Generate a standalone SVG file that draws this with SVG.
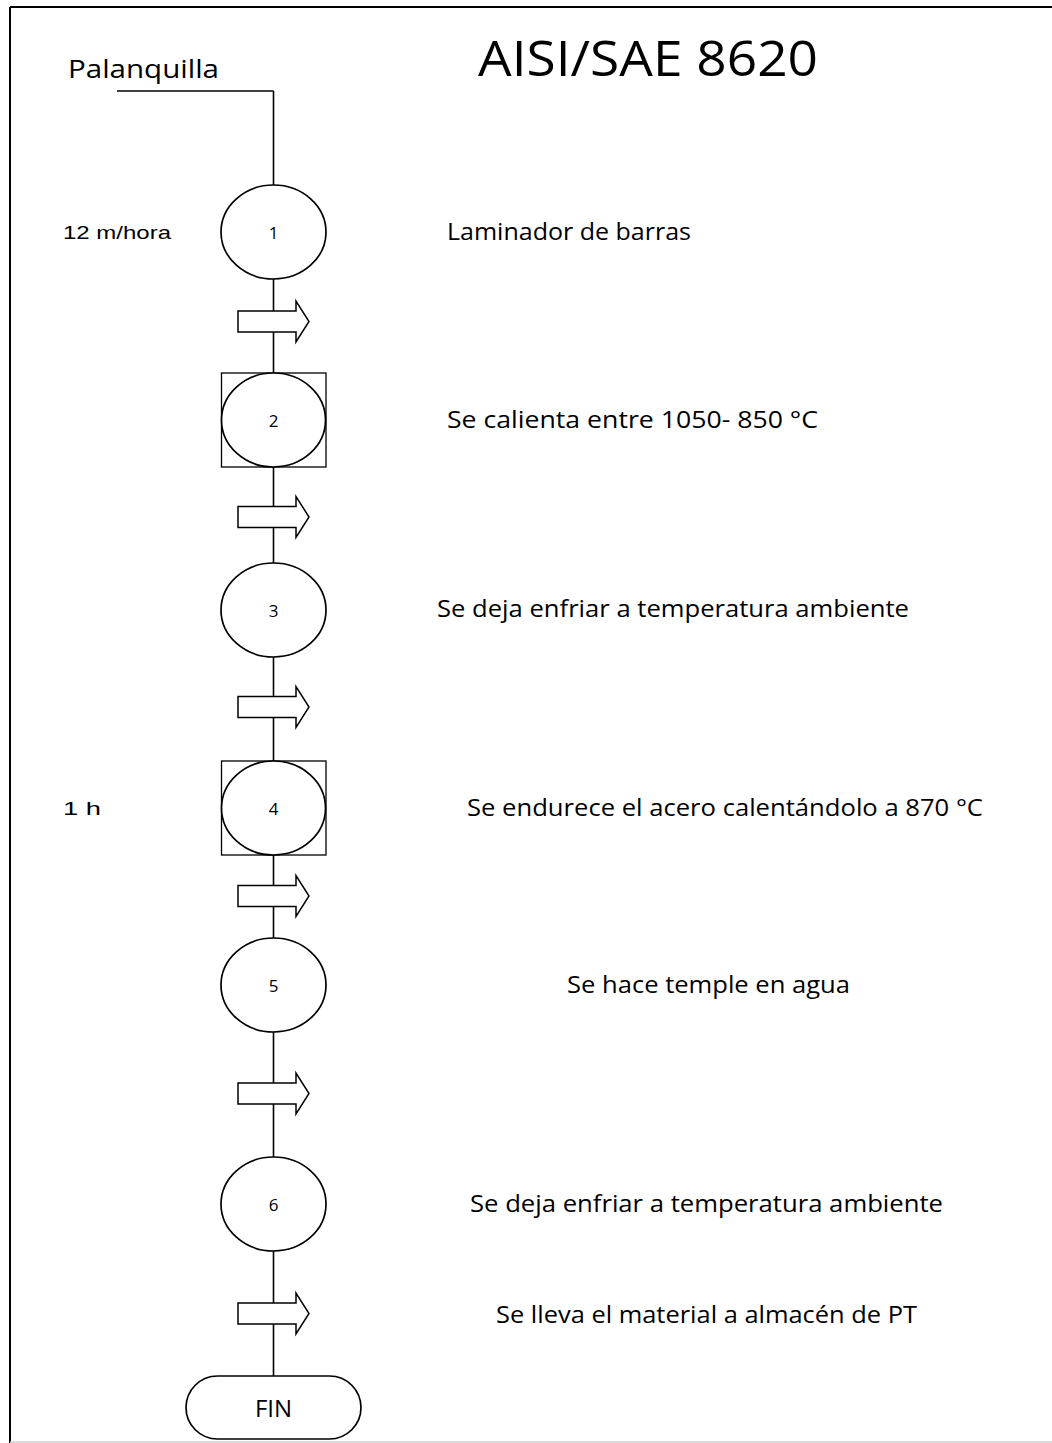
<svg xmlns="http://www.w3.org/2000/svg" width="1052" height="1443" viewBox="0 0 1052 1443">
  <style>
    .shape { fill: #fff; stroke: #000; stroke-width: 1.7; }
    .box { fill: #fff; stroke: #000; stroke-width: 1.3; }
    .flow { fill: #fff; stroke: #000; stroke-width: 1.5; stroke-linejoin: miter; }
    .wire { fill: none; stroke: #000; stroke-width: 1.6; }
    .lbl { font-family: "Open Sans", "Noto Sans", "Liberation Sans", sans-serif; fill: #000; }
    .num { font-family: "Open Sans", "Noto Sans", sans-serif; font-size: 17px; text-anchor: middle; fill: #000; }
    .side { font-family: "Liberation Sans", Arial, sans-serif; fill: #000; }
  </style>
  <defs>
    <!-- block arrow pointing right, centred on the flow line -->
    <path id="flowArrow" class="flow" d="M238,-10.5 H296 V-20.5 L309,0 L296,20.5 V10.5 H238 Z"/>
  </defs>

  <rect x="0" y="0" width="1052" height="1443" fill="#fff"/>

  <!-- page frame -->
  <g id="frame">
    <line x1="10" y1="7" x2="1052" y2="7" stroke="#000" stroke-width="2"/>
    <line x1="10" y1="7" x2="10" y2="1443" stroke="#000" stroke-width="2"/>
    <line x1="10" y1="1442" x2="1052" y2="1442" stroke="#cfcfcf" stroke-width="1.5"/>
  </g>

  <!-- title -->
  <text id="title" class="lbl" x="478" y="76" font-size="50" textLength="340" lengthAdjust="spacingAndGlyphs">AISI/SAE 8620</text>

  <!-- connectors -->
  <g id="connectors">
    <polyline class="wire" points="117,91 273.5,91" stroke-width="1"/>
    <line class="wire" x1="273.5" y1="91" x2="273.5" y2="1376"/>
  </g>

  <!-- input -->
  <g id="input">
    <text class="lbl" x="68" y="78" font-size="25" textLength="151" lengthAdjust="spacingAndGlyphs">Palanquilla</text>
  </g>

  <!-- step 1 -->
  <g id="step1">
    <ellipse class="shape" cx="273.5" cy="232" rx="52.5" ry="47"/>
    <text class="num" x="273.5" y="239">1</text>
    <text class="side" x="63" y="239" font-size="19" textLength="108" lengthAdjust="spacingAndGlyphs">12 m/hora</text>
    <text class="lbl" x="447" y="240" font-size="24" textLength="244" lengthAdjust="spacingAndGlyphs">Laminador de barras</text>
  </g>

  <g id="arrow1"><use href="#flowArrow" transform="translate(0,321.5)"/></g>

  <!-- step 2 -->
  <g id="step2">
    <rect class="box" x="221.5" y="373" width="104.5" height="94"/>
    <ellipse class="shape" cx="273.5" cy="420" rx="52" ry="47"/>
    <text class="num" x="273.5" y="427">2</text>
    <text class="lbl" x="447" y="428" font-size="24" textLength="371" lengthAdjust="spacingAndGlyphs">Se calienta entre 1050- 850 °C</text>
  </g>

  <g id="arrow2"><use href="#flowArrow" transform="translate(0,517)"/></g>

  <!-- step 3 -->
  <g id="step3">
    <ellipse class="shape" cx="273.5" cy="610" rx="52.5" ry="47"/>
    <text class="num" x="273.5" y="617">3</text>
    <text class="lbl" x="437" y="617" font-size="24" textLength="472" lengthAdjust="spacingAndGlyphs">Se deja enfriar a temperatura ambiente</text>
  </g>

  <g id="arrow3"><use href="#flowArrow" transform="translate(0,707)"/></g>

  <!-- step 4 -->
  <g id="step4">
    <rect class="box" x="221.5" y="761" width="104.5" height="94"/>
    <ellipse class="shape" cx="273.5" cy="808" rx="52" ry="47"/>
    <text class="num" x="273.5" y="815">4</text>
    <text class="side" x="63" y="815" font-size="19" textLength="38" lengthAdjust="spacingAndGlyphs">1 h</text>
    <text class="lbl" x="467" y="816" font-size="24" textLength="516" lengthAdjust="spacingAndGlyphs">Se endurece el acero calentándolo a 870 °C</text>
  </g>

  <g id="arrow4"><use href="#flowArrow" transform="translate(0,896)"/></g>

  <!-- step 5 -->
  <g id="step5">
    <ellipse class="shape" cx="273.5" cy="985" rx="52.5" ry="47"/>
    <text class="num" x="273.5" y="992">5</text>
    <text class="lbl" x="567" y="993" font-size="24" textLength="283" lengthAdjust="spacingAndGlyphs">Se hace temple en agua</text>
  </g>

  <g id="arrow5"><use href="#flowArrow" transform="translate(0,1093.5)"/></g>

  <!-- step 6 -->
  <g id="step6">
    <ellipse class="shape" cx="273.5" cy="1204" rx="52.5" ry="47"/>
    <text class="num" x="273.5" y="1211">6</text>
    <text class="lbl" x="470" y="1212" font-size="24" textLength="473" lengthAdjust="spacingAndGlyphs">Se deja enfriar a temperatura ambiente</text>
  </g>

  <g id="arrow6">
    <use href="#flowArrow" transform="translate(0,1313.5)"/>
    <text class="lbl" x="496" y="1323" font-size="24" textLength="421" lengthAdjust="spacingAndGlyphs">Se lleva el material a almacén de PT</text>
  </g>

  <!-- terminator -->
  <g id="fin">
    <rect class="shape" x="186" y="1376" width="175" height="63" rx="31.5" ry="31.5"/>
    <text class="lbl" x="273.5" y="1417" font-size="24" text-anchor="middle">FIN</text>
  </g>
</svg>
